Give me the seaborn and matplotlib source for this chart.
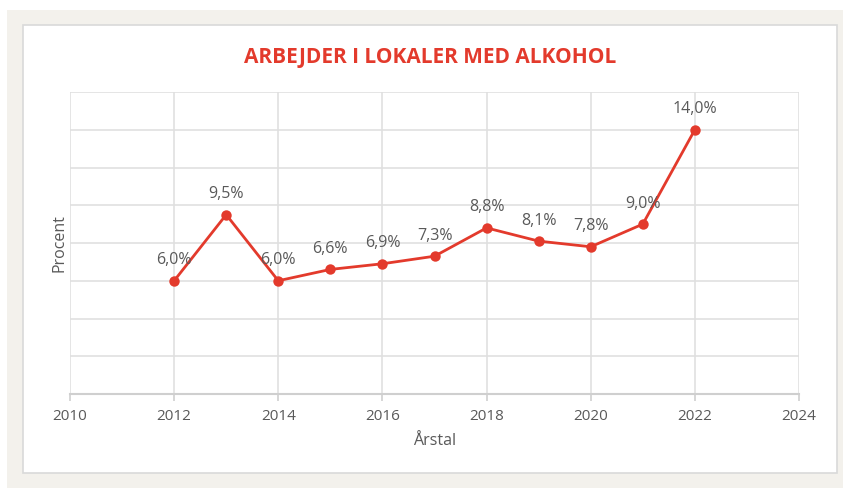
import numpy as np
import pandas as pd
import seaborn as sns
import matplotlib.pyplot as plt
import matplotlib.patches as mpatches

# data
years = [2012, 2013, 2014, 2015, 2016, 2017, 2018, 2019, 2020, 2021, 2022]
percent = [6.0, 9.5, 6.0, 6.6, 6.9, 7.3, 8.8, 8.1, 7.8, 9.0, 14.0]
x_ticks = [2010, 2012, 2014, 2016, 2018, 2020, 2022, 2024]

df = pd.DataFrame({'year': years, 'percent': percent})

RED = '#e33a2c'
GREY_TXT = '#595959'
GRID = '#e0e0e0'

sns.set_style('white')
plt.rcParams['font.family'] = ['Open Sans', 'DejaVu Sans']

W, H = 843, 488
fig = plt.figure(figsize=(W / 100, H / 100), dpi=100)
fig.patch.set_facecolor('white')

# beige frame and white panel
fig.patches.append(mpatches.Rectangle((7 / W, 0), 1 - 7 / W, 1 - 10 / H, transform=fig.transFigure,
                                      facecolor='#f3f1ec', edgecolor='none', zorder=-2))
fig.patches.append(mpatches.Rectangle((23 / W, 1 - 473 / H), (837 - 23) / W, (473 - 25) / H,
                                      transform=fig.transFigure, facecolor='white',
                                      edgecolor='#d9d9d9', linewidth=1.2, zorder=-1))

ax = fig.add_axes([70 / W, 1 - 394 / H, (799 - 70) / W, (394 - 92) / H])
ax.set_facecolor('none')

sns.lineplot(data=df, x='year', y='percent', ax=ax, color=RED, linewidth=2.0,
             marker='o', markersize=7.5, markeredgewidth=0, zorder=3)

for x, y in zip(years, percent):
    ax.annotate(f'{y:.1f}%'.replace('.', ','), (x, y), xytext=(0, 9), textcoords='offset points',
                ha='center', va='bottom', fontsize=11.5, color=GREY_TXT)

ax.set_xlim(2010, 2024)
ax.set_ylim(0, 16)
ax.set_xticks(x_ticks)
ax.set_yticks(np.arange(0, 17, 2))
ax.set_yticklabels([])
ax.grid(True, color=GRID, linewidth=1.2)
for s in ['top', 'right', 'left']:
    ax.spines[s].set_visible(False)
ax.spines['bottom'].set_color('#cfcfcf')
ax.spines['bottom'].set_linewidth(1.5)
ax.tick_params(axis='x', length=5, width=1.2, color='#cfcfcf', labelsize=11,
               labelcolor=GREY_TXT, pad=6, bottom=True)
ax.tick_params(axis='y', length=0)

ax.set_xlabel('Årstal', fontsize=11.5, color=GREY_TXT, labelpad=6)
ax.set_ylabel('Procent', fontsize=11.5, color=GREY_TXT, labelpad=-2)

fig.text(430 / W, 1 - 58 / H, 'ARBEJDER I LOKALER MED ALKOHOL', ha='center', va='center',
         fontsize=15, fontweight='bold', color=RED)

fig.savefig('out.png', dpi=100)
